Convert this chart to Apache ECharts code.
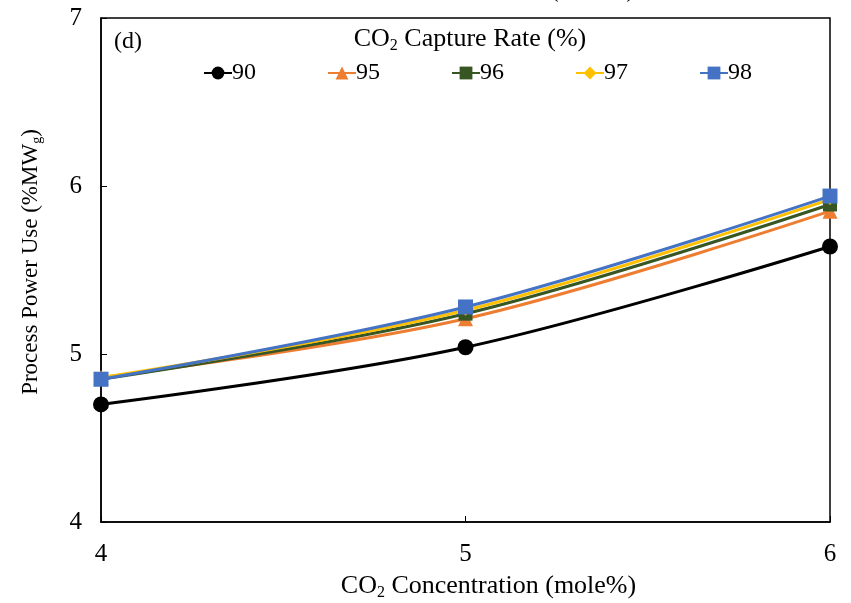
<!DOCTYPE html>
<html><head><meta charset="utf-8">
<script src="https://cdn.jsdelivr.net/npm/echarts@6/dist/echarts.min.js"></script>
<style>html,body{margin:0;padding:0;background:#fff}#c{width:851px;height:603px}</style>
</head><body><div id="c"></div>
<script>
const xValues = [4, 5, 6];
const seriesNames = ['90', '95', '96', '97', '98'];
const v90 = [4.70, 5.04, 5.64];
const v95 = [4.86, 5.21, 5.85];
const v96 = [4.85, 5.24, 5.89];
const v97 = [4.86, 5.26, 5.92];
const v98 = [4.85, 5.28, 5.94];
const colors = ['#000000', '#ED7D31', '#375623', '#FFC000', '#4472C4'];
const symbols = ['circle', 'triangle', 'rect', 'diamond', 'rect'];
const symbolSizes = [16, 15, 14, 11, 15];
const allValues = [v90, v95, v96, v97, v98];

const font = '"Liberation Serif", "Times New Roman", serif';
function rich(fs, sub) {
  return {
    a: {fontSize: fs, fontFamily: font, color: '#000', fontWeight: 'normal'},
    s: {fontSize: sub, fontFamily: font, color: '#000', fontWeight: 'normal', padding: [Math.round(fs * 0.5), 0, 0, 0]}
  };
}
const chart = echarts.init(document.getElementById('c'));
const series = seriesNames.map((n, i) => ({
  name: n, type: 'line', smooth: 0.35,
  data: xValues.map((x, j) => [x, allValues[i][j]]),
  symbol: symbols[i], symbolSize: symbolSizes[i],
  itemStyle: {color: colors[i]},
  lineStyle: {color: colors[i], width: 3},
  z: 2 + i
}));
chart.setOption({
  animation: false,
  textStyle: {fontFamily: font},
  grid: {left: 101, right: 21, top: 18, bottom: 81, show: true, borderColor: '#000', borderWidth: 1.5,
         containLabel: false, outerBoundsMode: 'none'},
  title: [
    {text: '{a|CO}{s|2}{a| Capture Rate (%)}', left: 465, textAlign: 'center', top: 20,
     textStyle: {rich: rich(26, 16)}},
    {text: '(d)', left: 109, top: 25, textStyle: {fontSize: 24, fontFamily: font, fontWeight: 'normal', color: '#000'}},
    {text: '{a|CO}{s|2}{a| Concentration (mole%)}', left: 493, textAlign: 'center', top: -28,
     textStyle: {rich: rich(24, 15)}}
  ],
  legend: {
    data: seriesNames, top: 56, left: 198, itemWidth: 28, itemHeight: 16, itemGap: 71,
    textStyle: {fontSize: 24, fontFamily: font, color: '#000', padding: [0, 0, 0, -5]}
  },
  xAxis: {
    type: 'value', min: 4, max: 6, interval: 1,
    axisLine: {lineStyle: {color: '#000', width: 1.5}},
    axisTick: {inside: true, length: 6, lineStyle: {color: '#000'}},
    splitLine: {show: false},
    axisLabel: {fontSize: 25, fontFamily: font, color: '#000', margin: 20},
    name: '{a|CO}{s|2}{a| Concentration (mole%)}', nameLocation: 'middle', nameGap: 50,
    nameTextStyle: {rich: rich(26, 16), padding: [0, 0, 0, 46]}
  },
  yAxis: {
    type: 'value', min: 4, max: 7, interval: 1,
    axisLine: {show: true, lineStyle: {color: '#000', width: 1.5}},
    axisTick: {show: true, inside: true, length: 6, lineStyle: {color: '#000'}},
    splitLine: {show: false},
    axisLabel: {fontSize: 25, fontFamily: font, color: '#000', margin: 19},
    name: '{a|Process Power Use (%MW}{s|g}{a|)}', nameLocation: 'middle', nameGap: 57,
    nameTextStyle: {rich: rich(23, 14), padding: [0, 0, 0, 16]}
  },
  series: series
});
</script></body></html>
